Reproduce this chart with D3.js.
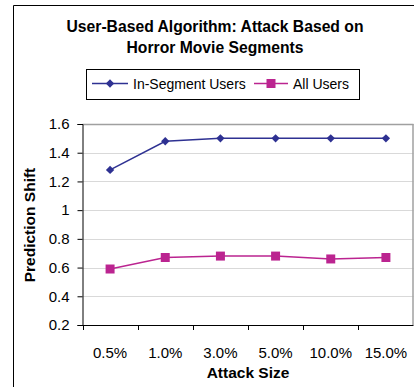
<!DOCTYPE html>
<html>
<head>
<meta charset="utf-8">
<script src="https://cdn.jsdelivr.net/npm/d3@7/dist/d3.min.js"></script>
<style>
  html, body { margin: 0; padding: 0; background: #fff; }
  svg { display: block; font-family: Arial, "Liberation Sans", sans-serif; }
</style>
</head>
<body>
<svg id="chart" width="414" height="387"></svg>
<script>
// Attack sizes on the x axis
const categories = ["0.5%", "1.0%", "3.0%", "5.0%", "10.0%", "15.0%"];
// Prediction shift per attack size
const inSegmentUsers = [1.28, 1.48, 1.50, 1.50, 1.50, 1.50];
const allUsers = [0.59, 0.67, 0.68, 0.68, 0.66, 0.67];
const yTicks = [0.2, 0.4, 0.6, 0.8, 1, 1.2, 1.4, 1.6];
const titleLines = ["User-Based Algorithm: Attack Based on", "Horror Movie Segments"];

const svg = d3.select("#chart");
const W = 414, H = 387;
const plot = { left: 82.5, right: 413.5, top: 124, bottom: 325 };

// Outer chart frame (top and left edges)
svg.append("path")
  .attr("d", `M13.5,${H} V5.5 H${W}`)
  .attr("fill", "none").attr("stroke", "#000").attr("stroke-width", 1);

// Title
svg.append("text")
  .attr("x", 215).attr("y", 32)
  .attr("text-anchor", "middle")
  .attr("font-size", 15.7).attr("font-weight", "bold")
  .selectAll("tspan").data(titleLines).join("tspan")
  .attr("x", 215).attr("dy", (d, i) => i ? 21 : 0)
  .text(d => d);

const x = d3.scaleBand().domain(categories).range([plot.left, plot.right]);
const y = d3.scaleLinear().domain([0.2, 1.6]).range([plot.bottom, plot.top]);

// Horizontal gridlines
svg.append("g").selectAll("line").data(yTicks.slice(1)).join("line")
  .attr("x1", plot.left).attr("x2", plot.right)
  .attr("y1", d => Math.round(y(d)) + 0.5).attr("y2", d => Math.round(y(d)) + 0.5)
  .attr("stroke", d => d === 1.6 ? "#a0a0a0" : "#d9d9d9")
  .attr("stroke-width", d => d === 1.6 ? 1.5 : 1.2);

// Right border of plot area
svg.append("line")
  .attr("x1", plot.right - 0.5).attr("x2", plot.right - 0.5)
  .attr("y1", plot.top).attr("y2", plot.bottom)
  .attr("stroke", "#a0a0a0").attr("stroke-width", 1.5);

// Y axis
const yAxis = svg.append("g")
  .attr("transform", `translate(${plot.left},0)`)
  .call(d3.axisLeft(y).tickValues(yTicks).tickSize(5).tickPadding(8)
    .tickFormat(d => d === 1 ? "1" : d3.format(".1f")(d)));
yAxis.select(".domain").attr("stroke", "#000");
yAxis.selectAll("text").attr("font-size", 15).attr("fill", "#000")
  .attr("font-family", "Arial, 'Liberation Sans', sans-serif");

// X axis: ticks at category boundaries
const xAxis = svg.append("g")
  .attr("transform", `translate(0,${plot.bottom})`);
xAxis.append("line")
  .attr("x1", plot.left).attr("x2", plot.right).attr("y1", 0.5).attr("y2", 0.5)
  .attr("stroke", "#000");
const boundaries = categories.map(c => x(c)).concat([x(categories[categories.length - 1]) + x.bandwidth()]);
xAxis.selectAll("line.tick").data(boundaries).join("line")
  .attr("class", "tick")
  .attr("x1", d => Math.round(d) + 0.5).attr("x2", d => Math.round(d) + 0.5)
  .attr("y1", 0).attr("y2", 5).attr("stroke", "#000");
xAxis.selectAll("text").data(categories).join("text")
  .attr("x", d => x(d) + x.bandwidth() / 2).attr("y", 33)
  .attr("text-anchor", "middle").attr("font-size", 15).text(d => d);

// Axis titles
svg.append("text")
  .attr("x", 248).attr("y", 378)
  .attr("text-anchor", "middle").attr("font-size", 15.5).attr("font-weight", "bold")
  .text("Attack Size");
svg.append("text")
  .attr("transform", "translate(35,225) rotate(-90)")
  .attr("text-anchor", "middle").attr("font-size", 15.5).attr("font-weight", "bold")
  .text("Prediction Shift");

const cx = d => x(d) + x.bandwidth() / 2;
const series = [
  { name: "In-Segment Users", values: inSegmentUsers, color: "#2e3192", shape: d3.symbolDiamond2, size: 44 },
  { name: "All Users", values: allUsers, color: "#bb2490", shape: d3.symbolSquare, size: 81 }
];

const line = d3.line().x(d => cx(d.c)).y(d => y(d.v));
series.forEach(s => {
  const pts = categories.map((c, i) => ({ c, v: s.values[i] }));
  svg.append("path").datum(pts)
    .attr("d", line).attr("fill", "none")
    .attr("stroke", s.color).attr("stroke-width", 1.5);
  svg.append("g").selectAll("path").data(pts).join("path")
    .attr("transform", d => `translate(${cx(d.c)},${y(d.v)})`)
    .attr("d", d3.symbol().type(s.shape).size(s.size))
    .attr("fill", s.color);
});

// Legend
const legend = svg.append("g");
legend.append("rect")
  .attr("x", 86.5).attr("y", 69.5).attr("width", 273).attr("height", 30)
  .attr("fill", "#fff").attr("stroke", "#000");
const legendItems = [
  { s: series[0], x1: 92, x2: 128, tx: 133 },
  { s: series[1], x1: 254, x2: 288, tx: 293 }
];
legendItems.forEach(it => {
  legend.append("line")
    .attr("x1", it.x1).attr("x2", it.x2).attr("y1", 83.5).attr("y2", 83.5)
    .attr("stroke", it.s.color).attr("stroke-width", 1.5);
  legend.append("path")
    .attr("transform", `translate(${(it.x1 + it.x2) / 2},83.5)`)
    .attr("d", d3.symbol().type(it.s.shape).size(it.s.size))
    .attr("fill", it.s.color);
  legend.append("text")
    .attr("x", it.tx).attr("y", 89).attr("font-size", 14)
    .text(it.s.name);
});
</script>
</body>
</html>
